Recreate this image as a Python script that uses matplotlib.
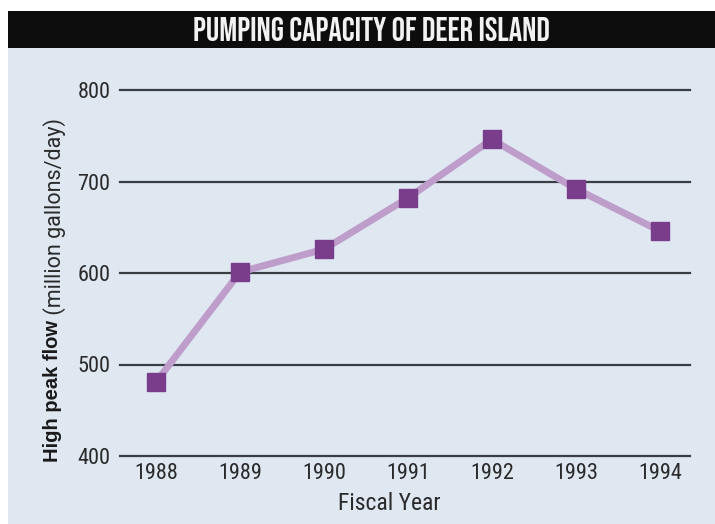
import matplotlib
matplotlib.use("Agg")
from matplotlib import pyplot as plt
from matplotlib.patches import Rectangle

years = ["1988", "1989", "1990", "1991", "1992", "1993", "1994"]
flow = [481, 601, 626, 682, 746, 692, 646]
yticks = [400, 500, 600, 700, 800]

W, H = 715, 524
cond = ["Roboto Condensed", "DejaVu Sans"]

fig = plt.figure(figsize=(W / 100, H / 100), dpi=100)
fig.patch.set_facecolor("white")

# fond bleu + bandeau noir du titre
fig.patches.append(Rectangle((8 / W, 0), 1, 1 - 48 / H, transform=fig.transFigure,
                             facecolor="#dfe7f1", edgecolor="none", zorder=-10))
fig.patches.append(Rectangle((8 / W, 1 - 48 / H), 1, 37 / H, transform=fig.transFigure,
                             facecolor="#0d0d0d", edgecolor="none", zorder=-10))
fig.text(371 / W, 1 - 29 / H, "PUMPING CAPACITY OF DEER ISLAND", color="#f2f2f2",
         fontsize=24, family=["Bebas Neue", "Oswald", "DejaVu Sans"],
         ha="center", va="center")

ax = fig.add_axes([120 / W, 1 - 456 / H, 570 / W, 366 / H])
ax.set_facecolor("none")
x = list(range(len(years)))
ax.plot(x, flow, color="#be9dcb", lw=5, zorder=3, clip_on=False, solid_joinstyle="round")
ax.plot(x, flow, ls="none", marker="s", ms=13, color="#7a3d8c", zorder=4, clip_on=False)

ax.set_xlim(-0.43, 6.36)
ax.set_ylim(400, 800)
ax.set_yticks(yticks)
ax.set_xticks(x)
ax.set_xticklabels(years)
for v in yticks:
    ax.axhline(v, color="#3a3d44", lw=1.6, zorder=1, clip_on=False)
for s in ax.spines.values():
    s.set_visible(False)
ax.tick_params(length=0, labelsize=16, colors="#2a2a2a")
ax.tick_params(axis="y", pad=7)
ax.tick_params(axis="x", pad=5)
for lab in ax.get_xticklabels() + ax.get_yticklabels():
    lab.set_family(cond)

fig.text(389 / W, 1 - 503 / H, "Fiscal Year", fontsize=17, family=cond,
         color="#2a2a2a", ha="center", va="center")

t = fig.text(52 / W, 1 - 462 / H, "High peak flow", fontsize=14.5, fontweight="bold",
             family=["Liberation Sans", "DejaVu Sans"], rotation=90,
             ha="center", va="bottom", color="#1a1a1a")
ax.annotate(" (million gallons/day)", xy=(0.65, 1), xycoords=t, rotation=90,
            ha="center", va="bottom", fontsize=15.5, color="#2a2a2a",
            family=["Roboto", "DejaVu Sans"], annotation_clip=False)

fig.savefig("out.png", dpi=100)
